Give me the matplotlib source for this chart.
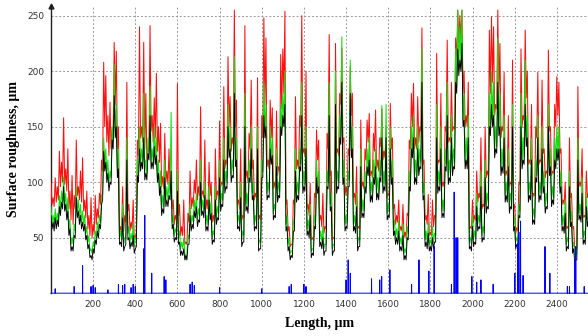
import numpy as np
import matplotlib
matplotlib.use("Agg")
import matplotlib.pyplot as plt

# Profile samples every 10 um (local highs), with local lows read between them (at +5 um)
x_start, x_step = 0, 10

red = [100, 86, 104, 96, 128, 118, 158, 112, 130, 92, 106, 88, 138, 96, 110, 122, 84, 92, 70, 86,
       62, 88, 76, 90, 120, 208, 196, 160, 172, 148, 226, 218, 150, 60, 96, 70, 190, 80, 64, 84,
       52, 138, 240, 150, 226, 180, 130, 241, 160, 176, 198, 150, 153, 105, 144, 110, 130, 96, 84, 70,
       189, 80, 60, 84, 46, 72, 110, 86, 102, 120, 96, 168, 92, 138, 84, 118, 100, 70, 130, 92,
       155, 100, 186, 120, 213, 177, 140, 255, 174, 84, 130, 70, 241, 110, 144, 192, 120, 90, 194, 70,
       160, 248, 230, 120, 174, 167, 100, 164, 114, 215, 220, 254, 84, 60, 44, 84, 177, 120, 160, 250,
       130, 200, 80, 99, 50, 90, 147, 138, 70, 90, 60, 144, 233, 110, 50, 225, 130, 180, 221, 140,
       96, 130, 204, 180, 90, 114, 60, 156, 100, 130, 156, 162, 110, 144, 165, 120, 140, 166, 128, 150,
       90, 171, 140, 80, 70, 84, 60, 80, 55, 72, 138, 180, 189, 140, 177, 150, 239, 120, 70, 89,
       55, 84, 70, 216, 120, 180, 100, 150, 228, 140, 190, 150, 230, 255, 250, 255, 200, 160, 190, 60,
       84, 70, 110, 90, 140, 80, 150, 110, 237, 249, 240, 170, 255, 225, 150, 199, 110, 160, 100, 210,
       80, 59, 100, 220, 160, 237, 200, 120, 170, 90, 150, 199, 120, 192, 130, 110, 219, 150, 110, 170,
       195, 190, 130, 84, 100, 60, 140, 90, 60, 40, 186, 100, 130, 70, 110, 90]
red_lo = [80, 78, 82, 84, 96, 100, 98, 92, 76, 66,
          62, 76, 88, 84, 82, 74, 68, 58, 52, 50,
          54, 62, 68, 80, 110, 150, 136, 124, 130, 146,
          170, 130, 56, 54, 56, 64, 74, 56, 58, 48,
          50, 124, 140, 136, 130, 118, 128, 146, 136, 140,
          128, 118, 96, 94, 100, 98, 94, 76, 62, 66,
          70, 52, 52, 44, 44, 64, 76, 78, 90, 84,
          88, 88, 86, 76, 76, 88, 64, 64, 84, 88,
          96, 98, 112, 116, 150, 128, 134, 150, 80, 76,
          66, 68, 104, 100, 130, 112, 84, 86, 66, 66,
          140, 170, 114, 112, 140, 94, 94, 106, 110, 166,
          180, 80, 56, 42, 44, 80, 112, 112, 150, 126,
          124, 76, 70, 48, 48, 86, 120, 66, 60, 54,
          58, 130, 106, 48, 50, 126, 124, 170, 136, 88,
          88, 124, 160, 86, 80, 58, 58, 96, 94, 120,
          136, 106, 104, 128, 112, 110, 132, 120, 122, 86,
          88, 130, 76, 62, 64, 56, 56, 50, 50, 70,
          130, 150, 130, 130, 136, 146, 116, 66, 62, 52,
          52, 60, 68, 116, 118, 96, 96, 146, 136, 136,
          146, 148, 210, 226, 226, 180, 150, 150, 58, 58,
          64, 66, 82, 86, 76, 78, 104, 106, 180, 190,
          160, 166, 180, 140, 146, 106, 106, 96, 98, 76,
          54, 56, 98, 150, 156, 176, 116, 116, 86, 88,
          140, 116, 118, 126, 104, 108, 146, 106, 108, 150,
          160, 126, 80, 80, 58, 58, 86, 58, 38, 40,
          96, 96, 68, 68, 86]

green = [78, 70, 76, 72, 88, 92, 105, 90, 86, 66, 50, 62, 96, 84, 80, 74, 70, 60, 52, 40,
         46, 56, 64, 70, 88, 140, 130, 120, 110, 150, 206, 170, 130, 56, 80, 50, 140, 60, 54, 62,
         50, 120, 150, 130, 180, 120, 140, 186, 130, 150, 140, 120, 110, 88, 120, 96, 100, 163, 70, 58,
         110, 56, 46, 50, 30, 52, 80, 70, 84, 90, 76, 120, 84, 100, 70, 96, 82, 56, 96, 78,
         120, 90, 140, 110, 170, 150, 120, 213, 140, 70, 100, 56, 180, 90, 120, 150, 100, 70, 150, 48,
         120, 190, 170, 100, 150, 140, 80, 130, 100, 170, 180, 200, 70, 50, 38, 66, 130, 100, 130, 190,
         110, 150, 66, 80, 40, 70, 120, 110, 56, 60, 44, 110, 190, 90, 44, 200, 110, 160, 231, 120,
         70, 110, 210, 150, 70, 90, 50, 130, 84, 110, 130, 140, 100, 120, 130, 104, 120, 169, 110, 170,
         80, 150, 120, 66, 58, 66, 50, 62, 40, 60, 110, 150, 160, 120, 150, 130, 220, 100, 56, 64,
         48, 60, 54, 170, 110, 150, 84, 130, 190, 120, 160, 130, 220, 255, 240, 255, 180, 140, 160, 50,
         70, 56, 90, 70, 110, 60, 120, 90, 180, 200, 190, 150, 230, 180, 130, 160, 100, 130, 90, 170,
         70, 50, 80, 180, 140, 210, 160, 100, 140, 76, 120, 160, 100, 150, 110, 90, 170, 130, 96, 140,
         150, 150, 110, 70, 84, 50, 110, 74, 46, 34, 140, 80, 104, 56, 90, 76]
green_lo = [64, 62, 64, 66, 76, 82, 80, 72, 58, 44,
            44, 56, 74, 68, 64, 62, 54, 46, 38, 36,
            42, 50, 56, 64, 90, 116, 106, 98, 104, 136,
            146, 110, 50, 48, 44, 50, 54, 46, 48, 42,
            48, 106, 116, 118, 108, 108, 126, 118, 118, 122,
            106, 94, 76, 78, 84, 84, 90, 64, 52, 54,
            50, 40, 40, 36, 36, 50, 62, 64, 74, 66,
            70, 76, 74, 62, 62, 72, 50, 52, 68, 72,
            80, 84, 96, 100, 128, 106, 110, 120, 64, 62,
            48, 52, 80, 78, 106, 90, 62, 64, 44, 46,
            110, 146, 90, 92, 122, 72, 74, 88, 92, 148,
            156, 62, 44, 36, 38, 62, 88, 90, 116, 96,
            98, 58, 56, 38, 40, 64, 96, 48, 46, 40,
            44, 100, 80, 40, 44, 96, 100, 140, 104, 62,
            64, 102, 128, 62, 60, 44, 48, 74, 74, 96,
            112, 88, 88, 104, 90, 90, 106, 96, 98, 72,
            74, 104, 58, 50, 50, 44, 44, 36, 36, 54,
            98, 128, 104, 104, 112, 118, 90, 48, 46, 44,
            44, 46, 52, 96, 98, 74, 74, 116, 104, 106,
            112, 118, 186, 202, 206, 156, 118, 118, 46, 44,
            48, 50, 62, 64, 52, 54, 78, 82, 148, 156,
            128, 132, 148, 112, 114, 88, 88, 78, 82, 62,
            46, 46, 74, 118, 122, 138, 88, 90, 68, 68,
            106, 88, 90, 96, 78, 82, 112, 84, 86, 118,
            126, 96, 62, 60, 44, 46, 66, 42, 33, 36,
            72, 70, 50, 50, 66]

black = [70, 64, 68, 66, 78, 82, 96, 80, 74, 58, 42, 52, 86, 74, 70, 64, 62, 52, 44, 34,
         40, 48, 56, 62, 80, 128, 118, 108, 100, 138, 178, 150, 112, 46, 68, 42, 120, 50, 46, 52,
         40, 106, 130, 118, 140, 108, 126, 160, 118, 132, 124, 108, 96, 76, 104, 84, 88, 110, 62, 50,
         92, 46, 38, 40, 34, 44, 70, 62, 74, 78, 66, 100, 74, 88, 60, 84, 72, 48, 84, 68,
         104, 80, 120, 96, 150, 130, 106, 180, 120, 60, 86, 46, 150, 78, 104, 130, 88, 60, 130, 40,
         104, 160, 150, 88, 130, 124, 70, 114, 88, 150, 160, 170, 60, 42, 34, 56, 110, 88, 114, 160,
         96, 130, 56, 70, 36, 60, 104, 96, 46, 50, 38, 96, 160, 78, 38, 170, 96, 140, 190, 104,
         60, 96, 180, 130, 60, 78, 42, 114, 72, 96, 114, 120, 88, 104, 114, 90, 104, 140, 96, 140,
         70, 130, 104, 56, 50, 56, 42, 52, 34, 50, 96, 130, 140, 104, 130, 114, 190, 88, 46, 54,
         42, 50, 46, 140, 96, 130, 72, 114, 160, 104, 140, 114, 190, 220, 210, 225, 156, 120, 140, 42,
         60, 46, 78, 60, 96, 50, 104, 78, 150, 170, 160, 130, 190, 150, 114, 140, 88, 114, 78, 150,
         60, 44, 70, 150, 120, 170, 140, 88, 120, 66, 104, 140, 88, 130, 96, 78, 150, 114, 84, 120,
         130, 130, 96, 60, 72, 42, 96, 64, 40, 30, 120, 70, 90, 48, 78, 66]
black_lo = [58, 56, 58, 60, 70, 76, 74, 66, 52, 38,
            38, 50, 68, 62, 58, 56, 48, 40, 32, 30,
            36, 44, 50, 58, 84, 110, 100, 92, 98, 130,
            140, 104, 44, 42, 38, 44, 48, 40, 42, 36,
            42, 100, 110, 112, 102, 102, 120, 112, 112, 116,
            100, 88, 70, 72, 78, 78, 84, 58, 46, 48,
            44, 34, 34, 30, 30, 44, 56, 58, 68, 60,
            64, 70, 68, 56, 56, 66, 44, 46, 62, 66,
            74, 78, 90, 94, 122, 100, 104, 114, 58, 56,
            42, 46, 74, 72, 100, 84, 56, 58, 38, 40,
            104, 140, 84, 86, 116, 66, 68, 82, 86, 142,
            150, 56, 38, 30, 32, 56, 82, 84, 110, 90,
            92, 52, 50, 32, 34, 58, 90, 42, 40, 34,
            38, 94, 74, 34, 38, 90, 94, 134, 98, 56,
            58, 96, 122, 56, 54, 38, 42, 68, 68, 90,
            106, 82, 82, 98, 84, 84, 100, 90, 92, 66,
            68, 98, 52, 44, 44, 38, 38, 30, 30, 48,
            92, 122, 98, 98, 106, 112, 84, 42, 40, 38,
            38, 40, 46, 90, 92, 68, 68, 110, 98, 100,
            106, 112, 180, 196, 200, 150, 112, 112, 40, 38,
            42, 44, 56, 58, 46, 48, 72, 76, 142, 150,
            122, 126, 142, 106, 108, 82, 82, 72, 76, 56,
            40, 40, 68, 112, 116, 132, 82, 84, 62, 62,
            100, 82, 84, 90, 72, 76, 106, 78, 80, 112,
            120, 90, 56, 54, 38, 40, 60, 36, 27, 30,
            66, 64, 44, 44, 60]

# Blue trace: isolated spikes on a zero baseline (position um, height um)
blue_pos = [20, 110, 150, 190, 200, 210, 270, 320, 340, 350, 380, 390, 400, 440, 445, 478, 537, 545,
            660, 670, 680, 800, 1000, 1130, 1140, 1200, 1210, 1400, 1410, 1420, 1521, 1560, 1569,
            1608, 1711, 1746, 1793, 1818, 1900, 1913, 1922, 1930, 1997, 2020, 2040, 2098, 2201,
            2215, 2220, 2228, 2240, 2344, 2367, 2450, 2460, 2485, 2490, 2530]
blue_h = [4, 6, 25, 6, 7, 5, 3, 8, 7, 8, 5, 8, 6, 40, 70, 18, 15, 12,
          8, 10, 7, 5, 4, 6, 8, 8, 6, 12, 30, 18, 13, 12, 15,
          21, 8, 30, 20, 42, 8, 91, 50, 50, 15, 10, 12, 8, 18,
          45, 55, 65, 16, 42, 18, 6, 6, 29, 42, 6]


def dense(hi, lo):
    hi = np.asarray(hi, float)
    lo = np.asarray(lo, float)
    m = min(len(hi), len(lo) + 1)
    hi, lo = hi[:m], lo[:m - 1]
    xh = x_start + x_step * np.arange(m)
    fx = np.empty(2 * m - 1)
    fy = np.empty(2 * m - 1)
    fx[0::2], fy[0::2] = xh, hi
    fx[1::2], fy[1::2] = xh[:-1] + x_step / 2, lo
    return fx, fy


bx, by = [0.0], [0.0]
for p, h in sorted(zip(blue_pos, blue_h)):
    bx += [p - 0.8, p, p + 0.8]
    by += [0.0, h, 0.0]
bx.append(2550.0)
by.append(0.0)

fig = plt.figure(figsize=(5.88, 3.36), dpi=100)
ax = fig.add_axes([0.0867, 0.1274, 0.9133, 0.8557])

ax.plot(*dense(red, red_lo), color="#ff1010", lw=0.75, zorder=3)
ax.plot(*dense(green, green_lo), color="#10e010", lw=0.75, zorder=4)
ax.plot(*dense(black, black_lo), color="#000000", lw=0.65, zorder=5)
ax.plot(bx, by, color="#0000ff", lw=0.7, zorder=6, clip_on=False)

ax.set_xlim(0, 2548)
ax.set_ylim(0, 259)
ax.set_xticks(np.arange(200, 2401, 200))
ax.set_yticks([50, 100, 150, 200, 250])
ax.grid(True, color="#9a9a9a", lw=0.7, ls=(0, (2, 2)))
ax.set_axisbelow(True)

for s in ["top", "right", "bottom"]:
    ax.spines[s].set_visible(False)
ax.spines["left"].set_color("#202020")
ax.spines["left"].set_linewidth(1.0)
ax.plot([0], [1], marker="^", color="#202020", markersize=3.5, transform=ax.transAxes,
        clip_on=False, zorder=10)

ax.tick_params(axis="both", length=0, labelsize=6.5, labelcolor="#333333", pad=5)

ax.set_ylabel("Surface roughness, µm", family="Liberation Serif", fontweight="bold",
              fontsize=10, labelpad=5)
ax.set_xlabel("Length, µm", family="Liberation Serif", fontweight="bold", fontsize=10,
              labelpad=6)

fig.savefig("out.png", dpi=100, facecolor="white")
